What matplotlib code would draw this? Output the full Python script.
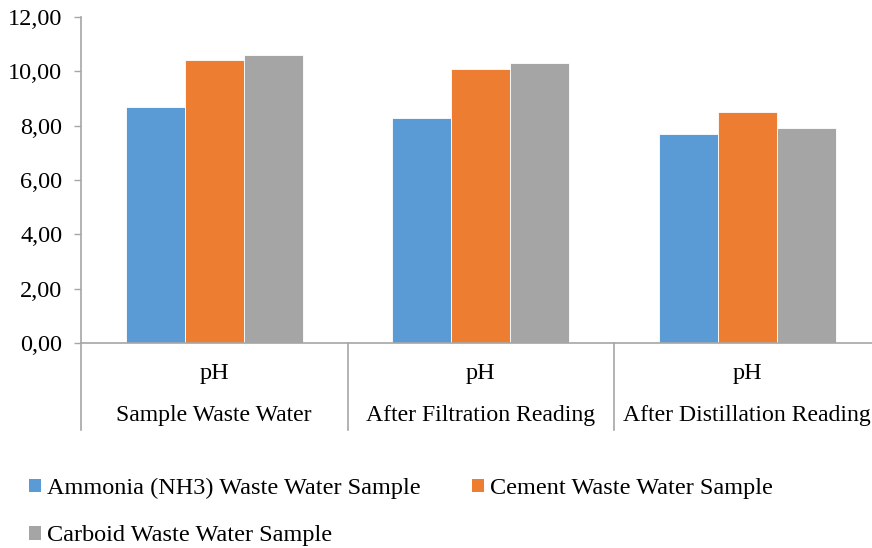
import matplotlib
matplotlib.use("Agg")
import matplotlib.pyplot as plt
import matplotlib.transforms as mtransforms
from matplotlib.patches import Patch
import numpy as np

plt.rcParams['font.family'] = ['Liberation Serif', 'DejaVu Serif']

groups = ["Sample Waste Water", "After Filtration Reading", "After Distillation Reading"]
sublabel = "pH"
series_names = ["Ammonia (NH3) Waste Water Sample", "Cement Waste Water Sample", "Carboid Waste Water Sample"]
ammonia = [8.7, 8.3, 7.7]
cement = [10.4, 10.1, 8.5]
carboid = [10.6, 10.3, 7.9]
yticks = [0, 2, 4, 6, 8, 10, 12]
colors = ["#5B9BD5", "#ED7D31", "#A5A5A5"]

FS = 17.5
W, H = 872, 548
fig = plt.figure(figsize=(W / 100, H / 100), dpi=100)
ax_left, ax_right, ax_top, ax_bot = 81, 880.5, 17, 343
ax = fig.add_axes([ax_left / W, 1 - ax_bot / H, (ax_right - ax_left) / W, (ax_bot - ax_top) / H])

x = np.arange(len(groups))
bw = 0.221
for i, (vals, c) in enumerate(zip([ammonia, cement, carboid], colors)):
    ax.bar(x + (i - 1) * bw, vals, width=bw, color=c, edgecolor='white', linewidth=0.6, zorder=2)

ax.set_xlim(-0.5, 2.5)
ax.set_ylim(0, 12)
ax.set_yticks(yticks)
ax.set_yticklabels([f"{v:.2f}".replace('.', ',') for v in yticks], fontsize=FS)
ax.tick_params(axis='y', length=5, width=1, color='#a6a6a6', pad=8.5)
ax.set_xticks([])
for s in ['top', 'right']:
    ax.spines[s].set_visible(False)
for s in ['left', 'bottom']:
    ax.spines[s].set_color('#a6a6a6')
    ax.spines[s].set_linewidth(1.2)

trans = mtransforms.blended_transform_factory(ax.transData, ax.transAxes)
sep_bottom = -(430 - 343) / (ax_bot - ax_top)
for b in [-0.5, 0.5, 1.5]:
    ax.plot([b, b], [0, sep_bottom], transform=trans, color='#a6a6a6', lw=1.2, clip_on=False)
for xi, g in zip(x, groups):
    ax.text(xi, -(373 - 343) / (ax_bot - ax_top), sublabel, transform=trans, ha='center', va='center', fontsize=FS)
    ax.text(xi, -(415 - 343) / (ax_bot - ax_top), g, transform=trans, ha='center', va='center', fontsize=17.1)

handles = [Patch(facecolor=c, edgecolor='none') for c in colors]
order = [0, 2, 1]
leg = fig.legend([handles[i] for i in order], [series_names[i] for i in order],
                 ncol=2, loc='upper left', bbox_to_anchor=(29 / W, 1 - 478 / H),
                 frameon=False, fontsize=FS, handlelength=0.5, handleheight=0.5,
                 handletextpad=0.25, columnspacing=2.1, labelspacing=1.08, borderaxespad=0, borderpad=0)

fig.savefig("out.png", dpi=100)
